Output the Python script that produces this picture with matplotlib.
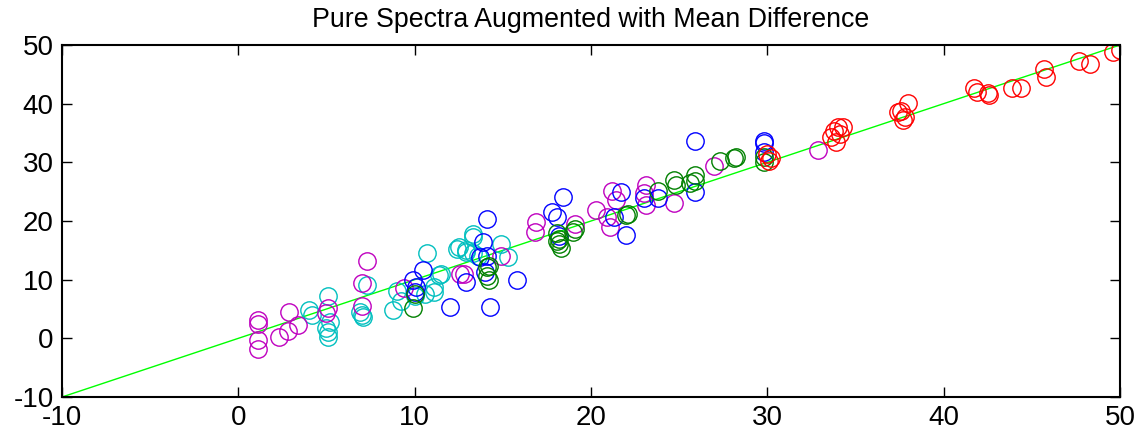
import numpy as np
import matplotlib.pyplot as plt

plt.rcParams['font.family'] = ['Liberation Sans', 'DejaVu Sans']
plt.rcParams['axes.unicode_minus'] = False

# estimated (true, predicted) pairs per class
red_x = [30.0, 30.2, 30.1, 33.6, 33.9, 34.0, 34.3, 34.1, 33.8, 37.4, 37.6, 37.8, 37.7, 38.0,
         41.7, 41.9, 42.6, 42.5, 43.9, 44.4, 45.7, 45.8, 47.7, 48.3, 49.6, 50.0]
red_y = [31.5, 30.8, 30.3, 34.3, 33.5, 36.0, 36.1, 34.9, 35.3, 38.6, 38.8, 37.7, 37.2, 40.1,
         42.7, 42.0, 41.4, 41.8, 42.7, 42.7, 45.9, 44.6, 47.2, 46.7, 48.8, 49.1]

blue_x = [10.5, 9.9, 10.1, 10.0, 12.0, 12.9, 14.1, 13.9, 14.1, 14.0, 13.7, 15.8, 14.3,
          17.8, 18.1, 18.4, 18.2, 21.3, 21.7, 22.0, 23.0, 23.8, 25.9, 25.9, 29.8, 29.8, 29.8]
blue_y = [11.6, 9.9, 8.7, 7.9, 5.4, 9.6, 20.4, 16.4, 14.1, 11.3, 13.9, 9.9, 5.3,
          21.5, 20.7, 24.1, 17.5, 20.7, 24.9, 17.7, 23.9, 24.0, 33.6, 24.9, 33.7, 33.3, 31.7]

green_x = [10.0, 9.9, 14.1, 14.1, 14.2, 14.2, 18.1, 18.2, 18.2, 18.3, 18.1, 19.0, 19.1,
           22.0, 22.1, 23.8, 24.7, 24.8, 25.6, 25.9, 25.9, 27.3, 28.1, 28.2, 29.8, 29.8]
green_y = [7.5, 5.2, 12.1, 10.7, 9.9, 12.4, 17.9, 17.0, 16.1, 15.4, 16.6, 18.1, 18.6,
           21.0, 21.2, 25.2, 27.0, 26.1, 26.4, 27.9, 26.9, 30.2, 30.8, 30.9, 30.9, 30.1]

magenta_x = [1.1, 1.1, 1.1, 1.1, 2.3, 2.8, 3.4, 2.9, 5.1, 5.0, 7.3, 7.0, 7.0, 9.4,
             12.6, 12.8, 14.9, 16.9, 16.8, 19.1, 20.3, 20.9, 21.1, 21.2, 21.4,
             23.1, 23.0, 23.1, 24.7, 27.0, 32.9]
magenta_y = [3.1, 2.4, -0.3, -1.9, 0.3, 1.2, 2.2, 4.5, 5.1, 4.3, 13.1, 9.5, 5.5, 8.6,
             11.0, 10.9, 14.0, 19.8, 18.1, 19.5, 21.9, 20.7, 19.0, 25.2, 23.6,
             26.1, 24.7, 22.7, 23.0, 29.3, 32.1]

cyan_x = [4.0, 4.2, 5.1, 5.2, 5.0, 5.1, 5.1, 6.9, 7.1, 7.0, 7.3, 8.8, 9.2, 9.0, 10.0,
          10.6, 10.7, 11.1, 11.1, 11.5, 11.4, 12.4, 12.5, 12.9, 12.9, 13.3, 13.3, 13.6,
          14.9, 15.3, 13.3]
cyan_y = [4.8, 4.0, 7.3, 2.8, 1.7, 1.1, 0.3, 4.5, 3.6, 4.0, 9.1, 4.9, 6.4, 8.0, 7.2,
          7.6, 14.5, 8.7, 7.9, 10.9, 10.8, 15.3, 15.6, 14.7, 15.0, 14.5, 17.3, 14.0,
          16.1, 13.9, 17.8]

fig = plt.figure(figsize=(11.37, 4.37), dpi=100)
ax = fig.add_axes([0.0545, 0.0915, 0.9305, 0.8055])

ax.plot([-10, 50], [-10, 50], color='lime', lw=1)
style = dict(ls='none', marker='o', ms=12.5, mfc='none', mew=1)
ax.plot(cyan_x, cyan_y, mec='c', **style)
ax.plot(magenta_x, magenta_y, mec='m', **style)
ax.plot(blue_x, blue_y, mec='b', **style)
ax.plot(green_x, green_y, mec='g', **style)
ax.plot(red_x, red_y, mec='r', **style)

ax.set_xlim(-10, 50)
ax.set_ylim(-10, 50)
ax.set_xticks(np.arange(-10, 51, 10))
ax.set_yticks(np.arange(-10, 51, 10))
ax.tick_params(direction='in', length=7, width=1, top=True, right=True, labelsize=20, pad=6)
for spine in ax.spines.values():
    spine.set_linewidth(1.5)
ax.set_title("Pure Spectra Augmented with Mean Difference", fontsize=19.3, pad=13)

fig.savefig('out.png', dpi=100)
